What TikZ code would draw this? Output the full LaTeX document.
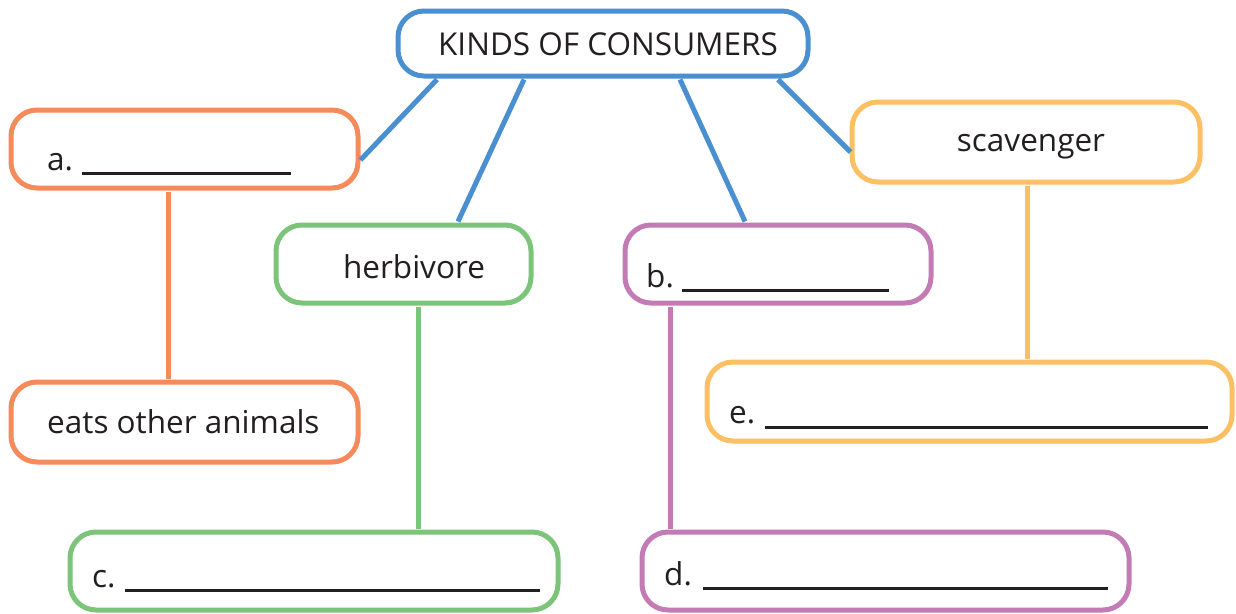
\documentclass[tikz,border=0pt]{standalone}
\usepackage{fontspec}
\setmainfont{Open Sans}
\usetikzlibrary{calc}
\definecolor{cblue}{HTML}{4A8FD0}
\definecolor{corange}{HTML}{F58B5A}
\definecolor{cgreen}{HTML}{7BC47A}
\definecolor{cpurple}{HTML}{C27BB5}
\definecolor{cyellow}{HTML}{FDBF63}
\definecolor{cink}{HTML}{231F20}
\tikzset{
  box/.style={draw=#1, line width=5pt, rounded corners=26pt, fill=white, inner sep=0pt},
  txt/.style={font=\fontsize{31.5}{38}\selectfont, text=cink, inner sep=0pt},
  conn/.style={draw=#1, line width=5pt},
  blank/.style={draw=cink, line width=3pt}
}
\begin{document}
\begin{tikzpicture}[x=1pt,y=-1pt]
\useasboundingbox (0,0) rectangle (1236,613);
% boxes
\node[box=cblue, minimum width=410pt, minimum height=65pt] (top) at (603,43.5) {};
\node[box=corange, minimum width=347pt, minimum height=78pt] (a) at (184.5,149) {};
\node[box=cgreen, minimum width=255pt, minimum height=78pt] (herb) at (403.5,264) {};
\node[box=cpurple, minimum width=306pt, minimum height=78pt] (b) at (778,264) {};
\node[box=cyellow, minimum width=348pt, minimum height=80pt] (scav) at (1026,142) {};
\node[box=corange, minimum width=347pt, minimum height=80pt] (eats) at (184.5,422) {};
\node[box=cyellow, minimum width=525pt, minimum height=79pt] (e) at (969.5,401.5) {};
\node[box=cgreen, minimum width=488pt, minimum height=78pt] (c) at (314,571) {};
\node[box=cpurple, minimum width=487pt, minimum height=78pt] (d) at (885.5,571) {};
% connectors
\draw[conn=cblue] ([xshift=-166pt,yshift=-1pt]top.south) -- ([yshift=-11pt]a.east);
\draw[conn=cblue] ([xshift=-79pt,yshift=-1pt]top.south) -- ([xshift=54.5pt,yshift=1pt]herb.north);
\draw[conn=cblue] ([xshift=77pt,yshift=-1pt]top.south) -- ([xshift=-33pt,yshift=1pt]b.north);
\draw[conn=cblue] ([xshift=175pt,yshift=-1pt]top.south) -- ([yshift=-10pt,xshift=1pt]scav.west);
\draw[conn=corange] ([xshift=-16.5pt,yshift=-1pt]a.south) -- ([xshift=-16.5pt,yshift=1pt]eats.north);
\draw[conn=cgreen] ([xshift=14.5pt,yshift=-1pt]herb.south) -- ([xshift=104pt,yshift=1pt]c.north);
\draw[conn=cpurple] ([xshift=-108pt,yshift=-1pt]b.south) -- ([xshift=-215.5pt,yshift=1pt]d.north);
\draw[conn=cyellow] ([xshift=1pt,yshift=-1pt]scav.south) -- ([xshift=57.5pt,yshift=1pt]e.north);
% texts
\node[txt, anchor=base] (ttop) at (608,55) {KINDS OF CONSUMERS};
\node[txt, anchor=base west] (ta) at (47,170) {a.};
\draw[blank] (82,173) -- (291,173);
\node[txt, anchor=base] (therb) at (414,278) {herbivore};
\node[txt, anchor=base west] (tb) at (646,287) {b.};
\draw[blank] (682,290) -- (889,290);
\node[txt, anchor=base] (tscav) at (1031,151) {scavenger};
\node[txt, anchor=base west] (teats) at (47,433) {eats other animals};
\node[txt, anchor=base west] (te) at (729,423) {e.};
\draw[blank] (765,427) -- (1208,427);
\node[txt, anchor=base west] (tc) at (92,587) {c.};
\draw[blank] (125,590) -- (540,590);
\node[txt, anchor=base west] (td) at (664,585) {d.};
\draw[blank] (703,588) -- (1108,588);
\end{tikzpicture}
\end{document}
